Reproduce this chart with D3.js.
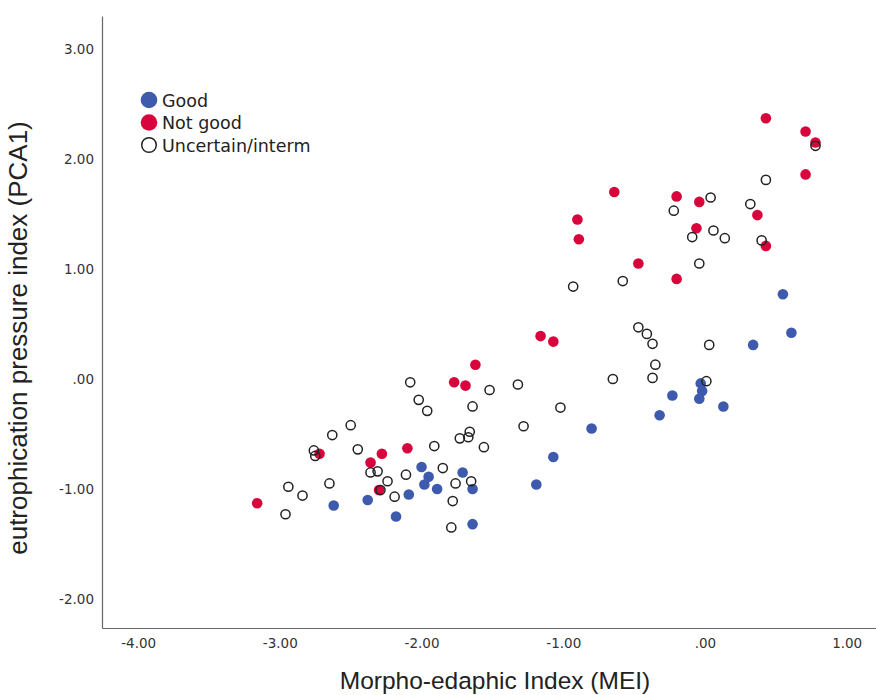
<!DOCTYPE html>
<html>
<head>
<meta charset="utf-8">
<script src="https://cdn.jsdelivr.net/npm/d3@7"></script>
<style>
  body { margin: 0; background: #fff; }
  .tick text { font-family: "DejaVu Sans", sans-serif; font-size: 13.5px; fill: #333; }
  .domain { stroke: #666; stroke-width: 1.2; }
</style>
</head>
<body>
<div class="container"></div>
<script>
// values, [MEI, PCA1]
const goodPoints = [
  [-2.62, -1.15], [-2.38, -1.10], [-2.18, -1.25], [-2.09, -1.05], [-2.00, -0.80],
  [-1.95, -0.89], [-1.98, -0.96], [-1.89, -1.00], [-1.71, -0.85], [-1.64, -1.00],
  [-1.64, -1.32], [-1.19, -0.96], [-1.07, -0.71], [-0.80, -0.45], [-0.32, -0.33],
  [-0.23, -0.15], [-0.03, -0.04], [-0.02, -0.11], [-0.04, -0.18], [0.13, -0.25],
  [0.34, 0.31], [0.55, 0.77], [0.61, 0.42]
]
const notGoodPoints = [
  [-3.16, -1.13], [-2.72, -0.68], [-2.36, -0.76], [-2.28, -0.68], [-2.10, -0.63],
  [-2.30, -1.01], [-1.77, -0.03], [-1.69, -0.06], [-1.62, 0.13], [-1.16, 0.39],
  [-1.07, 0.34], [-0.90, 1.45], [-0.89, 1.27], [-0.64, 1.70], [-0.47, 1.05],
  [-0.20, 1.66], [-0.20, 0.91], [-0.06, 1.37], [-0.04, 1.61], [0.37, 1.49],
  [0.43, 2.37], [0.43, 1.21], [0.71, 1.86], [0.71, 2.25], [0.78, 2.15]
]
const uncertainPoints = [
  [-2.96, -1.23], [-2.94, -0.98], [-2.84, -1.06], [-2.76, -0.65], [-2.75, -0.70],
  [-2.65, -0.95], [-2.63, -0.51], [-2.50, -0.42], [-2.45, -0.64], [-2.36, -0.85],
  [-2.31, -0.84], [-2.29, -1.01], [-2.24, -0.93], [-2.19, -1.07], [-2.11, -0.87],
  [-2.08, -0.03], [-2.02, -0.19], [-1.96, -0.29], [-1.91, -0.61], [-1.85, -0.81],
  [-1.79, -1.35], [-1.78, -1.11], [-1.76, -0.95], [-1.73, -0.54], [-1.67, -0.53],
  [-1.66, -0.48], [-1.65, -0.93], [-1.64, -0.25], [-1.56, -0.62], [-1.52, -0.10],
  [-1.32, -0.05], [-1.28, -0.43], [-1.02, -0.26], [-0.93, 0.84], [-0.65, 0.00],
  [-0.58, 0.89], [-0.47, 0.47], [-0.41, 0.41], [-0.37, 0.32], [-0.37, 0.01],
  [-0.35, 0.13], [-0.22, 1.53], [-0.09, 1.29], [-0.04, 1.05], [0.01, -0.02],
  [0.03, 0.31], [0.04, 1.65], [0.06, 1.35], [0.14, 1.28], [0.32, 1.59],
  [0.40, 1.26], [0.43, 1.81], [0.78, 2.12]
]
const xTicks = [-4, -3, -2, -1, 0, 1]
const yTicks = [-2, -1, 0, 1, 2, 3]
const legendLabels = ["Good", "Not good", "Uncertain/interm"]

const blue = "#3e5aad"
const red = "#d8043c"
const ringColor = "#222"

const w = 876
const h = 695
const plotLeft = 102
const plotRight = 876
const plotTop = 16
const plotBottom = 628

const svg = d3.select(".container")
              .append("svg")
              .attr("width", w)
              .attr("height", h)

const xScale = d3.scaleLinear()
                 .domain([-4.255, 1.207])
                 .range([plotLeft, plotRight])
const yScale = d3.scaleLinear()
                 .domain([-2.264, 3.30])
                 .range([plotBottom, plotTop])

const fmt = (v)=>{
    const s = v.toFixed(2)
    return s == "0.00" ? ".00" : s
}

const drawAxes = ()=>{
    const xAxis = d3.axisBottom(xScale)
                    .tickValues(xTicks)
                    .tickFormat(fmt)
                    .tickSize(0)
                    .tickSizeOuter(0)
                    .tickPadding(10)
    svg.append("g")
       .attr("transform", "translate(0," + plotBottom + ")")
       .call(xAxis)

    const yAxis = d3.axisLeft(yScale)
                    .tickValues(yTicks)
                    .tickFormat(fmt)
                    .tickSize(0)
                    .tickSizeOuter(0)
                    .tickPadding(8)
    svg.append("g")
       .attr("transform", "translate(" + plotLeft + ",0)")
       .call(yAxis)

    svg.append("text")
       .attr("x", 495)
       .attr("y", 689)
       .attr("text-anchor", "middle")
       .style("font-family", "'Liberation Sans', sans-serif")
       .style("font-size", "24.5px")
       .style("fill", "#222")
       .text("Morpho-edaphic Index (MEI)")

    svg.append("text")
       .attr("transform", "translate(27,338) rotate(-90)")
       .attr("text-anchor", "middle")
       .style("font-family", "'Liberation Sans', sans-serif")
       .style("font-size", "26px")
       .style("fill", "#222")
       .text("eutrophication pressure index (PCA1)")
}

const drawPoints = ()=>{
    svg.append("g").selectAll("circle")
       .data(goodPoints)
       .enter()
       .append("circle")
       .attr("cx", (d)=>xScale(d[0]))
       .attr("cy", (d)=>yScale(d[1]))
       .attr("r", 5.3)
       .attr("fill", blue)

    svg.append("g").selectAll("circle")
       .data(notGoodPoints)
       .enter()
       .append("circle")
       .attr("cx", (d)=>xScale(d[0]))
       .attr("cy", (d)=>yScale(d[1]))
       .attr("r", 5.3)
       .attr("fill", red)

    svg.append("g").selectAll("circle")
       .data(uncertainPoints)
       .enter()
       .append("circle")
       .attr("cx", (d)=>xScale(d[0]))
       .attr("cy", (d)=>yScale(d[1]))
       .attr("r", 4.6)
       .attr("fill", "none")
       .attr("stroke", ringColor)
       .attr("stroke-width", 1.5)
}

const drawLegend = ()=>{
    const g = svg.append("g")
    g.selectAll("circle")
     .data(legendLabels)
     .enter()
     .append("circle")
     .attr("cx", 149)
     .attr("cy", (d, i)=> 100 + i*22.5)
     .attr("r", (d, i)=> i == 2 ? 7.3 : 8.3)
     .attr("fill", (d, i)=> i == 0 ? blue : i == 1 ? red : "none")
     .attr("stroke", (d, i)=> i == 2 ? ringColor : "none")
     .attr("stroke-width", 1.5)
    g.selectAll("text")
     .data(legendLabels)
     .enter()
     .append("text")
     .attr("x", 162)
     .attr("y", (d, i)=> 106.5 + i*22.5)
     .style("font-family", "'DejaVu Sans', sans-serif")
     .style("font-size", "17.5px")
     .style("fill", "#222")
     .text((d)=>d)
}

drawAxes()
drawPoints()
drawLegend()
</script>
</body>
</html>
